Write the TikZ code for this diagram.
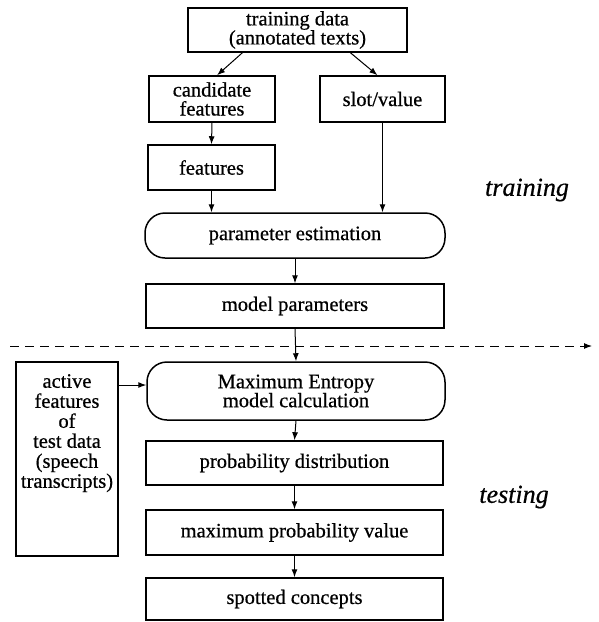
\documentclass[tikz,border=0pt]{standalone}
\usepackage{fontspec}
\setmainfont[FakeBold=0.6]{Liberation Serif}
\usetikzlibrary{arrows.meta,calc}
\begin{document}
\begin{tikzpicture}[x=1pt,y=-1pt,
  box/.style={draw,line width=1.5pt,rectangle,inner sep=0pt,align=center,
    font=\fontsize{20.5}{19}\selectfont},
  rbox/.style={box,rounded corners=20pt},
  arr/.style={line width=1pt,-{Latex[length=8pt,width=6pt]}},
  lab/.style={font=\fontsize{26}{28}\selectfont\itshape}]
\useasboundingbox (0,0) rectangle (598,622);
\node[box,minimum width=219pt,minimum height=44pt] (train) at (297.5,30) {training data\\(annotated texts)};
\node[box,minimum width=126pt,minimum height=46pt] (cand) at (212,99) {candidate\\features};
\node[box,minimum width=125pt,minimum height=46pt] (slot) at (382.5,99) {slot/value};
\node[box,minimum width=127pt,minimum height=45pt] (feat) at (211.5,167.5) {features};
\node[rbox,minimum width=300pt,minimum height=45pt] (param) at (295,235.5) {parameter estimation};
\node[box,minimum width=298pt,minimum height=44pt] (model) at (295,306) {model parameters};
\node[rbox,minimum width=298pt,minimum height=58pt] (maxent) at (296,391) {Maximum Entropy\\model calculation};
\node[box,minimum width=102pt,minimum height=194pt] (active) at (67,459) {};
\node[align=center,inner sep=0pt,anchor=north,font=\fontsize{20.5}{20}\selectfont] (activetext) at (67,374)
  {active\\features\\of\\test data\\(speech\\transcripts)};
\node[box,minimum width=297pt,minimum height=44pt] (prob) at (294.5,463) {probability distribution};
\node[box,minimum width=297pt,minimum height=45pt] (maxp) at (294.5,532.5) {maximum probability value};
\node[box,minimum width=297pt,minimum height=42pt] (spot) at (294.5,599) {spotted concepts};
\node[lab] (training) at (527,190) {training};
\node[lab] (testing) at (514,497) {testing};
\coordinate (dl) at (10,346);
\coordinate (dr) at (592,346);
\draw[line width=1pt,dash pattern=on 9pt off 6pt,-{Latex[length=8pt,width=6pt]}] (dl) -- (dr);
\draw[arr] ($(train.south west)!0.25!(train.south east)$) -- ($(cand.north west)!0.54!(cand.north east)$);
\draw[arr] ($(train.south west)!0.74!(train.south east)$) -- ($(slot.north west)!0.46!(slot.north east)$);
\draw[arr] (cand.south) -- (feat.north);
\draw[arr] (feat.south) -- (feat.south |- param.north);
\draw[arr] (slot.south) -- (slot.south |- param.north);
\draw[arr] (param.south) -- (model.north);
\draw[arr] (model.south) -- (maxent.north);
\draw[arr] ([yshift=6pt]maxent.west -| active.east) -- ([yshift=6pt]maxent.west);
\draw[arr] (maxent.south) -- (prob.north);
\draw[arr] (prob.south) -- (maxp.north);
\draw[arr] (maxp.south) -- (spot.north);
\end{tikzpicture}
\end{document}
